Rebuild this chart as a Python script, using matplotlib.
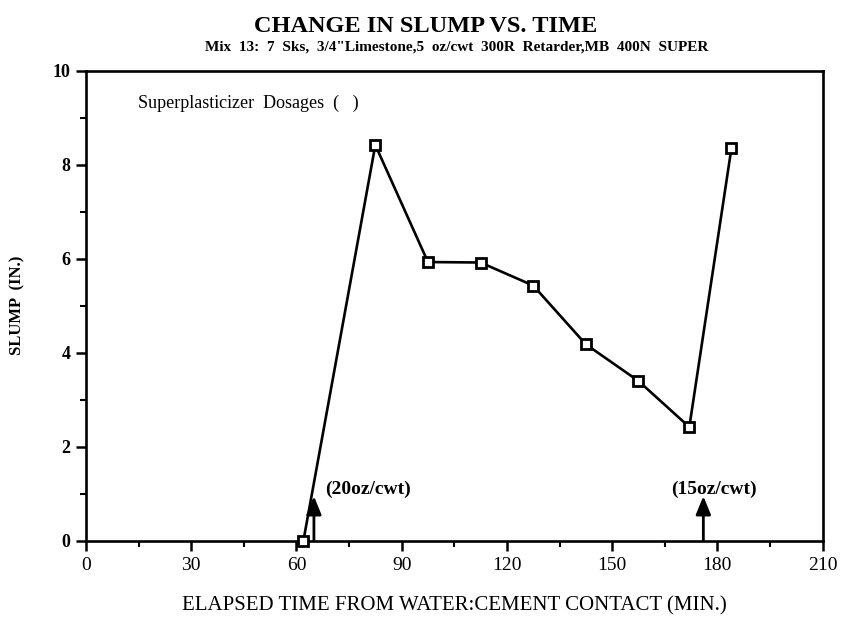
import matplotlib
matplotlib.use("Agg")
import matplotlib.pyplot as plt
from matplotlib.ticker import MultipleLocator

# elapsed time (min) and slump (in.)
elapsed_min = [62, 82.5, 97.5, 112.5, 127.5, 142.5, 157.5, 172, 184]
slump_in = [0.0, 8.42, 5.93, 5.92, 5.43, 4.18, 3.40, 2.42, 8.35]

# superplasticizer doses: time of addition and label
dose_min = [65, 176]
dose_labels = ["(20oz/cwt)", "(15oz/cwt)"]
dose_label_x = [68.3, 166.7]

x_ticks = [0, 30, 60, 90, 120, 150, 180, 210]
y_ticks = [0, 2, 4, 6, 8, 10]

serif = ["Liberation Serif", "DejaVu Serif"]
plt.rcParams["font.family"] = serif

fig = plt.figure(figsize=(8.42, 6.37), dpi=100)
ax = fig.add_axes([0.102, 0.151, 0.875, 0.738])

ax.plot(elapsed_min, slump_in, color="black", linewidth=1.9,
        marker="s", markersize=6.5, markerfacecolor="white",
        markeredgecolor="black", markeredgewidth=2.0, clip_on=False, zorder=5)

# dosage arrows
for xd, lab, xl in zip(dose_min, dose_labels, dose_label_x):
    ax.annotate("", xy=(xd, 0.95), xytext=(xd, 0),
                arrowprops=dict(arrowstyle="-|>,head_length=1.1,head_width=0.45",
                                color="black", lw=2.0, shrinkA=0, shrinkB=0))
    ax.text(xl, 1.1, lab, fontsize=14, fontweight="bold", va="center", ha="left")

ax.text(14.8, 9.3, "Superplasticizer  Dosages  (   )", fontsize=13, va="center", ha="left")

ax.set_xlim(0, 210)
ax.set_ylim(0, 10)
ax.set_xticks(x_ticks)
ax.set_yticks(y_ticks)
ax.xaxis.set_minor_locator(MultipleLocator(15))
ax.yaxis.set_minor_locator(MultipleLocator(1))
ax.tick_params(axis="both", which="major", direction="out", length=7, width=1.8, color="black")
ax.tick_params(axis="both", which="minor", direction="out", length=4, width=1.5)
ax.tick_params(axis="x", which="both", top=False, pad=5, labelsize=14)
ax.tick_params(axis="y", which="both", right=False, pad=4, labelsize=13)
for lab in ax.get_yticklabels():
    lab.set_fontweight("bold")

for side in ax.spines.values():
    side.set_linewidth(1.9)

ax.set_xlabel("ELAPSED TIME FROM WATER:CEMENT CONTACT (MIN.)", fontsize=15, labelpad=16)
ax.set_ylabel("SLUMP  (IN.)", fontsize=12, fontweight="bold", labelpad=20)

fig.text(0.505, 0.958, "CHANGE IN SLUMP VS. TIME", fontsize=17.5, fontweight="bold",
         ha="center", va="center")
fig.text(0.542, 0.926, "Mix  13:  7  Sks,  3/4\"Limestone,5  oz/cwt  300R  Retarder,MB  400N  SUPER",
         fontsize=11, fontweight="bold", ha="center", va="center")

fig.savefig("out.png", dpi=100)
